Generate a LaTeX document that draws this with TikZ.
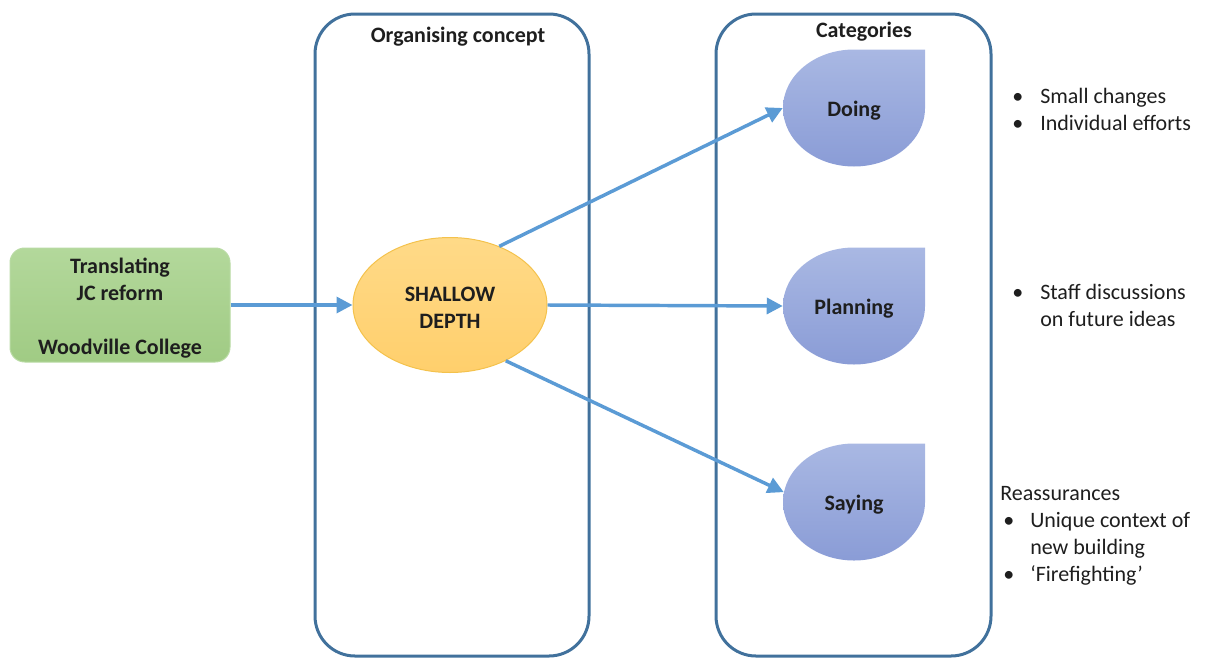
\documentclass[tikz,border=0pt]{standalone}
\usepackage{fontspec}
\setmainfont{Carlito}
\usetikzlibrary{arrows.meta,shapes.geometric}
\definecolor{frame}{HTML}{41719C}
\definecolor{arr}{HTML}{5B9BD5}
\definecolor{gtop}{HTML}{B3D89B}
\definecolor{gbot}{HTML}{A0CB84}
\definecolor{gline}{HTML}{B9DBA4}
\definecolor{otop}{HTML}{FFDA88}
\definecolor{obot}{HTML}{FFCF6C}
\definecolor{oline}{HTML}{F4C24C}
\definecolor{btop}{HTML}{A9B8E3}
\definecolor{bbot}{HTML}{8A9CD6}
\definecolor{txt}{HTML}{1E1E1E}
\newcommand\mainsz{\fontsize{16.5}{20.25}\selectfont}
\newcommand\boldsz{\fontsize{16.5}{20.25}\selectfont\bfseries}
\newcommand\teardropshape[4]{%
  \shade[top color=btop, bottom color=bbot] (#2+71,#3) arc[start angle=0, end angle=-270, x radius=71, y radius=58.5] -- (#2+71,#3+58.5) -- cycle;
  \node[ellipse, minimum width=106.5pt, minimum height=87.75pt, inner sep=0pt] (#1) at (#2,#3) {};
  \node[font=\boldsz, inner sep=0pt] (#1text) at (#2,#3-3) {#4};}
\begin{document}
\begin{tikzpicture}[x=0.75pt,y=0.75pt, font=\mainsz, text=txt,
  container/.style={draw=frame, line width=2.25pt, rounded corners=30pt, inner sep=0pt, minimum height=481.5pt},
  title/.style={font=\boldsz, inner sep=0pt},
  arrow/.style={draw=arr, line width=2.6pt, -{Triangle[length=12pt,width=12pt]}},
  listnode/.style={anchor=west, inner sep=0pt, align=left}]
\useasboundingbox (0,0) rectangle (1205,-657);
% containers
\node[container, minimum width=205.5pt] (organising) at (452,-335) {};
\node[container, minimum width=206.25pt] (categories) at (853.5,-335) {};
\node[title] (orgtitle) at (458,-37) {Organising concept};
\node[title] (cattitle) at (864,-32) {Categories};
% source box
\node[draw=gline, line width=0.75pt, top color=gtop, bottom color=gbot, rounded corners=11pt,
      minimum width=165pt, minimum height=85.5pt, inner sep=0pt] (source) at (120,-305) {};
\node[inner sep=0pt, align=center, font=\boldsz] (sourcetext) at (120,-308)
      {Translating\\JC reform\\\mbox{}\\Woodville College};
% central ellipse
\node[ellipse, draw=oline, line width=0.75pt, top color=otop, bottom color=obot,
      minimum width=145.5pt, minimum height=101.25pt, inner sep=0pt] (shallow) at (450,-305) {};
\node[inner sep=0pt, align=center, font=\boldsz] (shallowtext) at (450,-308) {SHALLOW\\DEPTH};
% categories
\teardropshape{doing}{854}{-108}{Doing}
\teardropshape{planning}{854}{-306}{Planning}
\teardropshape{saying}{854}{-502}{Saying}
% arrows
\draw[arrow] (source.east) -- (shallow.west);
\draw[arrow] (shallow.50) -- (doing.west);
\draw[arrow] (shallow.east) -- (planning.west);
\draw[arrow] (shallow.-45) -- (saying.172);
% lists
\node[listnode] (doinglist) at (1012,-112) {%
  \begin{tabular}{@{}p{21pt}@{}l@{}}
  • & Small changes\\
  • & Individual efforts
  \end{tabular}};
\node[listnode] (planninglist) at (1012,-308) {%
  \begin{tabular}{@{}p{21pt}@{}l@{}}
  • & Staff discussions\\
    & on future ideas
  \end{tabular}};
\node[listnode] (sayinglist) at (1000,-535.5) {%
  \begin{tabular}{@{}p{22.5pt}@{}l@{}}
  \multicolumn{2}{@{}l@{}}{Reassurances}\\
  \hspace*{2.25pt}• & Unique context of\\
    & new building\\
  \hspace*{2.25pt}• & ‘Firefighting’
  \end{tabular}};
\end{tikzpicture}
\end{document}
